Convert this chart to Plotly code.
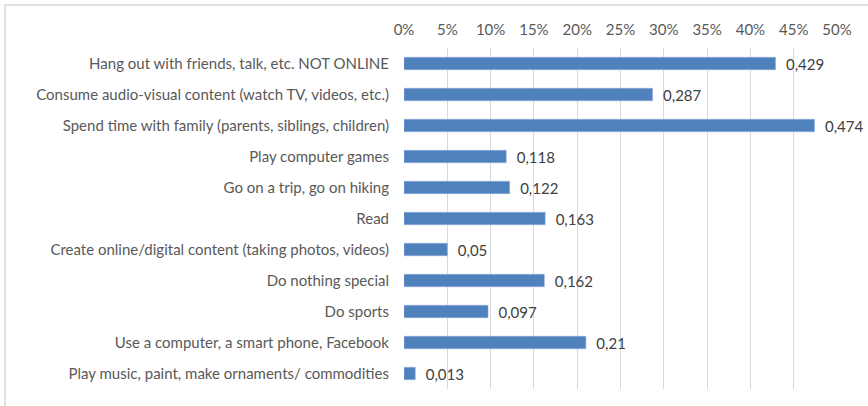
import plotly.graph_objects as go

# Leisure activities and the share of respondents choosing each one
activities = [
    "Hang out with friends, talk, etc. NOT ONLINE",
    "Consume audio-visual content (watch TV, videos, etc.)",
    "Spend time with family (parents, siblings, children)",
    "Play computer games",
    "Go on a trip, go on hiking",
    "Read",
    "Create online/digital content (taking photos, videos)",
    "Do nothing special",
    "Do sports",
    "Use a computer, a smart phone, Facebook",
    "Play music, paint, make ornaments/ commodities",
]
shares = [0.429, 0.287, 0.474, 0.118, 0.122, 0.163, 0.05, 0.162, 0.097, 0.21, 0.013]
value_labels = ["0,429", "0,287", "0,474", "0,118", "0,122", "0,163", "0,05", "0,162", "0,097", "0,21", "0,013"]
tick_values = [0, 0.05, 0.10, 0.15, 0.20, 0.25, 0.30, 0.35, 0.40, 0.45, 0.50]
tick_labels = ["0%", "5%", "10%", "15%", "20%", "25%", "30%", "35%", "40%", "45%", "50%"]

FONT = "Lato"
SIZE = 15
GREY_TEXT = "#595959"

fig = go.Figure(
    go.Bar(
        x=shares,
        y=activities,
        orientation="h",
        marker=dict(color="#4F81BD", line=dict(color="#8EAADB", width=0.6)),
        width=0.4,
        text=["\u2002" + t for t in value_labels],
        textposition="outside",
        constraintext="none",
        cliponaxis=False,
        textfont=dict(family=FONT, size=SIZE, color="#404040"),
    )
)

W, H = 868, 406
L, R, T, B = 404, 31, 48, 17
pw, ph = W - L - R, H - T - B

fig.update_layout(
    width=W,
    height=H,
    margin=dict(l=L, r=R, t=T, b=B),
    paper_bgcolor="white",
    plot_bgcolor="white",
    showlegend=False,
    font=dict(family=FONT, size=SIZE, color=GREY_TEXT),
    xaxis=dict(
        side="top",
        range=[0, 0.5],
        tickvals=tick_values,
        ticktext=tick_labels,
        showgrid=True,
        gridcolor="#D9D9D9",
        gridwidth=1,
        zeroline=False,
        showline=False,
        ticks="",
        ticklabelstandoff=9,
        tickfont=dict(family=FONT, size=SIZE, color=GREY_TEXT),
    ),
    yaxis=dict(
        autorange="reversed",
        showgrid=False,
        showline=False,
        ticks="",
        ticklabelstandoff=14,
        tickfont=dict(family=FONT, size=SIZE, color=GREY_TEXT),
    ),
    shapes=[
        # chart frame, its right and bottom edges run past the page
        dict(
            type="rect",
            xref="paper",
            yref="paper",
            x0=(5 - L) / pw,
            x1=(W + 20 - L) / pw,
            y0=-(B + 20) / ph,
            y1=1 + (T - 5) / ph,
            line=dict(color="#D9D9D9", width=1.5),
            layer="below",
        )
    ],
)

fig.write_html("out.html")
